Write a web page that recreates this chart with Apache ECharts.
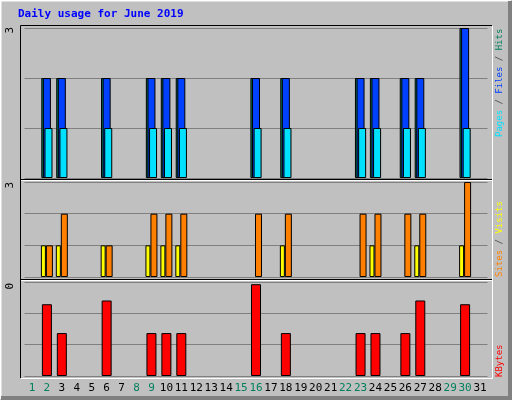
<!DOCTYPE html>
<html><head><meta charset="utf-8">
<script src="https://cdn.jsdelivr.net/npm/echarts@6/dist/echarts.min.js"></script>
<style>html,body{margin:0;padding:0;background:#C0C0C0}#c{width:512px;height:400px}</style>
</head><body><div id="c"></div>
<script>
const days = Array.from({length:31},(_,i)=>String(i+1));
const weekendDays = ['1','2','8','9','15','16','22','23','29','30'];
//            1  2  3  4  5  6  7  8  9 10 11 12 13 14 15 16 17 18 19 20 21 22 23 24 25 26 27 28 29 30 31
const hits  = [0, 2, 2, 0, 0, 2, 0, 0, 2, 2, 2, 0, 0, 0, 0, 2, 0, 2, 0, 0, 0, 0, 2, 2, 0, 2, 2, 0, 0, 3, 0];
const files = [0, 2, 2, 0, 0, 2, 0, 0, 2, 2, 2, 0, 0, 0, 0, 2, 0, 2, 0, 0, 0, 0, 2, 2, 0, 2, 2, 0, 0, 3, 0];
const pages = [0, 1, 1, 0, 0, 1, 0, 0, 1, 1, 1, 0, 0, 0, 0, 1, 0, 1, 0, 0, 0, 0, 1, 1, 0, 1, 1, 0, 0, 1, 0];
const sites = [0, 1, 1, 0, 0, 1, 0, 0, 1, 1, 1, 0, 0, 0, 0, 0, 0, 1, 0, 0, 0, 0, 0, 1, 0, 0, 1, 0, 0, 1, 0];
const visits= [0, 1, 2, 0, 0, 1, 0, 0, 2, 2, 2, 0, 0, 0, 0, 2, 0, 2, 0, 0, 0, 0, 2, 2, 0, 2, 2, 0, 0, 3, 0];
const kbytes= [0,2.29,1.37,0,0,2.41,0,0,1.37,1.37,1.37,0,0,0,0,2.93,0,1.37,0,0,0,0,1.37,1.37,0,1.37,2.41,0,0,2.29,0];
const maxLabels = ['3','3','0'];

const F = 'DejaVu Sans Mono, monospace';
const z = a => a.map(v => v === 0 ? null : v);
const bs = c => ({color:c, borderColor:'#000', borderWidth:1});
const gL = 24.5, gR = 512-487.5;
const grids = [
  {left:gL, right:gR, top:28, height:150},
  {left:gL, right:gR, top:182, height:95},
  {left:gL, right:gR, top:282, height:94}
];
const xAxes = grids.map((g,i)=>({
  type:'category', gridIndex:i, data:days,
  axisLine:{show:false}, axisTick:{show:false},
  axisLabel:{show:i===2, interval:0, margin:7, fontFamily:F, fontSize:11,
    color:(v)=> weekendDays.includes(v) ? '#00805c' : '#000'}
}));
const yAxes = grids.map((g,i)=>({
  type:'value', gridIndex:i, min:0, max:3, interval:1,
  axisLine:{show:false}, axisTick:{show:false}, axisLabel:{show:false},
  splitLine:{lineStyle:{color:'#808080', width:1}}
}));
const chart = echarts.init(document.getElementById('c'));
chart.setOption({
  animation:false,
  backgroundColor:'#C0C0C0',
  grid:grids, xAxis:xAxes, yAxis:yAxes,
  series:[
    {type:'bar', xAxisIndex:0, yAxisIndex:0, data:z(hits), barWidth:8, barGap:'-80%', itemStyle:bs('#00805c')},
    {type:'bar', xAxisIndex:0, yAxisIndex:0, data:z(files), barWidth:8, barGap:'-80%', itemStyle:bs('#0040ff')},
    {type:'bar', xAxisIndex:0, yAxisIndex:0, data:z(pages), barWidth:8, barGap:'-80%', itemStyle:bs('#00e0ff')},
    {type:'bar', xAxisIndex:1, yAxisIndex:1, data:z(sites), barWidth:5, barGap:'0%', itemStyle:bs('#ffff00')},
    {type:'bar', xAxisIndex:1, yAxisIndex:1, data:z(visits), barWidth:7, barGap:'0%', itemStyle:bs('#ff8000')},
    {type:'bar', xAxisIndex:2, yAxisIndex:2, data:z(kbytes), barWidth:10, itemStyle:bs('#ff0000')}
  ],
  graphic:[
    {type:'polyline', shape:{points:[[0.5,399],[0.5,0.5],[511,0.5]]}, style:{stroke:'#fff',lineWidth:2,fill:null}, z:10},
    {type:'polyline', shape:{points:[[1,398],[510,398],[510,1]]}, style:{stroke:'#808080',lineWidth:4,fill:null}, z:10},
    {type:'polyline', shape:{points:[[20.5,378],[20.5,25.5],[492,25.5]]}, style:{stroke:'#000',lineWidth:1,fill:null}, z:10},
    {type:'polyline', shape:{points:[[21,378.5],[492.5,378.5],[492.5,26]]}, style:{stroke:'#fff',lineWidth:1,fill:null}, z:10},
    {type:'line', shape:{x1:21,y1:180.5,x2:492,y2:180.5}, style:{stroke:'#fff',lineWidth:1}, z:10},
    {type:'line', shape:{x1:21,y1:179.5,x2:492,y2:179.5}, style:{stroke:'#000',lineWidth:1}, z:10},
    {type:'line', shape:{x1:21,y1:280.5,x2:492,y2:280.5}, style:{stroke:'#fff',lineWidth:1}, z:10},
    {type:'line', shape:{x1:21,y1:279.5,x2:492,y2:279.5}, style:{stroke:'#000',lineWidth:1}, z:10},
    {type:'text', x:18, y:9, style:{text:'Daily usage for June 2019', fill:'#0000ff', font:'bold 11px '+F}},
    ...[[27,0],[182,1],[283,2]].map(([y,i])=>({type:'text', x:10, y:y, rotation:Math.PI/2,
      style:{text:maxLabels[i], fill:'#000', font:'11px '+F, textAlign:'right', textVerticalAlign:'middle'}})),
    {type:'text', x:500, y:137, rotation:Math.PI/2, style:{
      text:'{a|Pages}{s| / }{b|Files}{s| / }{c|Hits}', textAlign:'left', textVerticalAlign:'middle',
      rich:{a:{fill:'#00e0ff',font:'9px '+F},b:{fill:'#0040ff',font:'9px '+F},c:{fill:'#00805c',font:'9px '+F},s:{fill:'#404040',font:'9px '+F}}}},
    {type:'text', x:500, y:277, rotation:Math.PI/2, style:{
      text:'{a|Sites}{s| / }{b|Visits}', textAlign:'left', textVerticalAlign:'middle',
      rich:{a:{fill:'#ff8000',font:'9px '+F},b:{fill:'#ffff00',font:'9px '+F},s:{fill:'#404040',font:'9px '+F}}}},
    {type:'text', x:500, y:377, rotation:Math.PI/2, style:{
      text:'KBytes', fill:'#ff0000', font:'9px '+F, textAlign:'left', textVerticalAlign:'middle'}}
  ]
});
</script></body></html>
